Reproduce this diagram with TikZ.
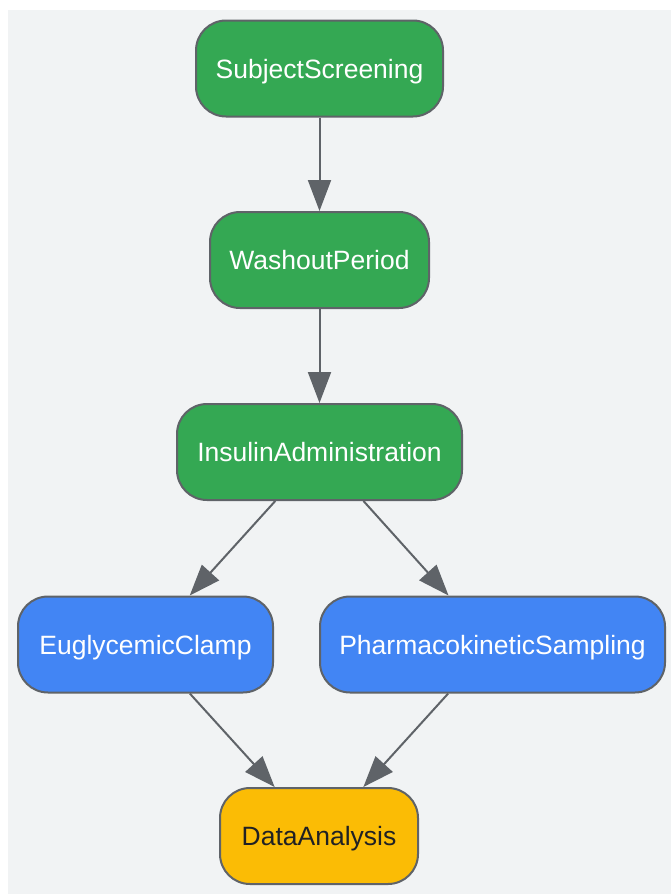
\documentclass[tikz,border=0pt]{standalone}
\usepackage{fontspec}
\setmainfont{Liberation Sans}
\usetikzlibrary{arrows.meta}
\definecolor{bgc}{HTML}{F1F3F4}
\definecolor{edgec}{HTML}{5F6368}
\definecolor{gr}{HTML}{34A853}
\definecolor{bl}{HTML}{4285F4}
\definecolor{yl}{HTML}{FBBC05}
\definecolor{dk}{HTML}{202124}
\tikzset{
  box/.style={draw=edgec, line width=2pt, rounded corners=30pt, minimum height=96pt,
    font=\fontsize{26.5}{30}\selectfont, inner sep=0pt, text height=19pt, text depth=0pt},
  greenbox/.style={box, fill=gr, text=white},
  bluebox/.style={box, fill=bl, text=white},
  yellowbox/.style={box, fill=yl, text=dk},
  conn/.style={draw=edgec, line width=2pt, -{Triangle[length=31pt,width=23pt]}, fill=edgec}
}
\begin{document}
\begin{tikzpicture}[x=1pt,y=-1pt]
\useasboundingbox (0,0) rectangle (671,894);
\fill[bgc] (8,10) rectangle (671,894);
\node[greenbox, minimum width=247pt] (ss) at (319.5,68.5) {SubjectScreening};
\node[greenbox, minimum width=219pt] (wp) at (319.5,260) {WashoutPeriod};
\node[greenbox, minimum width=285pt] (ia) at (319.5,452) {InsulinAdministration};
\node[bluebox, minimum width=255pt] (ec) at (145.5,644.5) {EuglycemicClamp};
\node[bluebox, minimum width=345pt] (ps) at (492.5,644.5) {PharmacokineticSampling};
\node[yellowbox, minimum width=198pt] (da) at (319,836) {DataAnalysis};
\draw[conn] (ss) -- (wp);
\draw[conn] (wp) -- (ia);
\draw[conn] (ia) -- (ec);
\draw[conn] (ia) -- (ps);
\draw[conn] (ec) -- (da);
\draw[conn] (ps) -- (da);
\end{tikzpicture}
\end{document}
